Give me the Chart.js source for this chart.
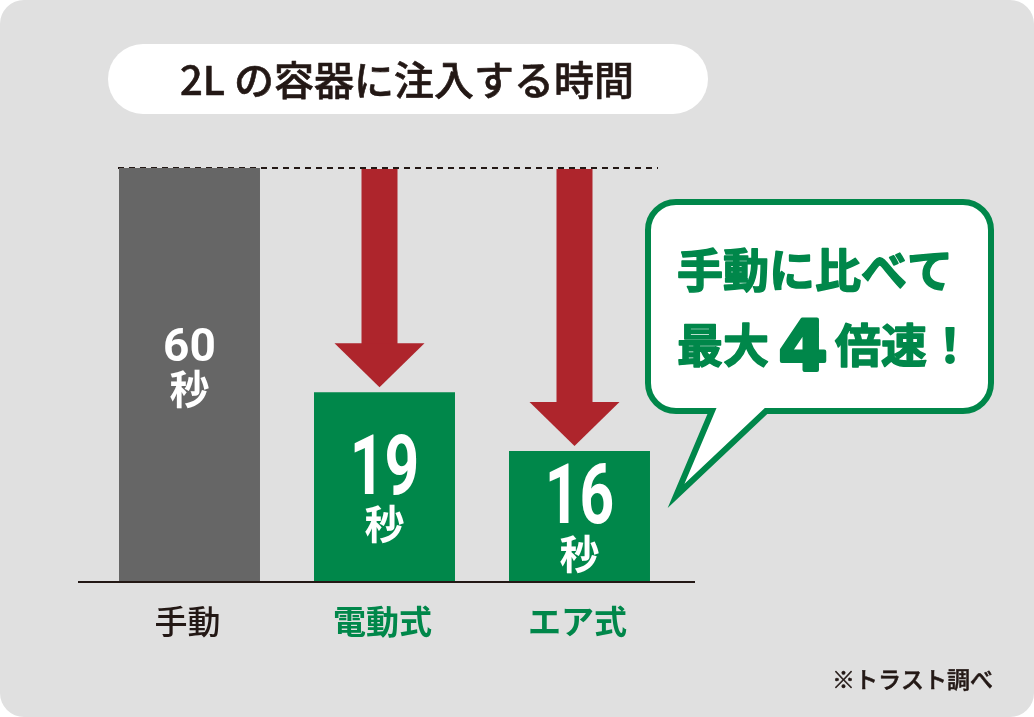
<!DOCTYPE html>
<html><head><meta charset="utf-8">
<script src="https://cdn.jsdelivr.net/npm/chart.js@4.4.1/dist/chart.umd.min.js"></script>
<style>html,body{margin:0;padding:0;background:#fff;}#wrap{width:1034px;height:717px;position:relative;}</style>
</head><body><div id="wrap"><canvas id="c"></canvas></div>
<script>
// ---- data ----
const categories = ['手動', '電動式', 'エア式'];
const barHeights = [60, 27.5, 19];          // bar heights as drawn in the picture
const secondsLabels = ['60', '19', '16'];   // value printed in each bar
const unitLabel = '秒';
const arrowFrom = 60;                        // arrows start at the manual-time level
const titleText = '2L の容器に注入する時間';
const calloutLine1 = '手動に比べて';
const calloutLine2 = ['最大', '4', '倍速！'];
const footnote = '※トラスト調べ';

// ---- styles ----
const DARK = '#231815', GREEN = '#00874a', GRAY = '#666666', RED = '#ae252c', BG = '#e0e0e0';
const JP = '"Noto Sans CJK JP", "Noto Sans", sans-serif';
const barColors = [GRAY, GREEN, GREEN];
const catColors = [DARK, GREEN, GREEN];
const catWeights = ['500', '700', '700'];

function rrect(ctx, x, y, w, h, r) {
  ctx.beginPath();
  ctx.moveTo(x + r, y);
  ctx.lineTo(x + w - r, y); ctx.arcTo(x + w, y, x + w, y + r, r);
  ctx.lineTo(x + w, y + h - r); ctx.arcTo(x + w, y + h, x + w - r, y + h, r);
  ctx.lineTo(x + r, y + h); ctx.arcTo(x, y + h, x, y + h - r, r);
  ctx.lineTo(x, y + r); ctx.arcTo(x, y, x + r, y, r);
  ctx.closePath();
}
function heavyText(ctx, t, x, y, w) {
  ctx.lineWidth = w; ctx.lineJoin = 'round';
  ctx.strokeStyle = ctx.fillStyle;
  ctx.strokeText(t, x, y); ctx.fillText(t, x, y);
}

const deco = {
  id: 'deco',
  beforeDraw(chart) {
    const ctx = chart.ctx, W = chart.width, H = chart.height;
    ctx.save();
    ctx.fillStyle = BG; rrect(ctx, 0, 0, W, H, 24); ctx.fill();
    // title pill
    ctx.fillStyle = '#fff'; rrect(ctx, 108, 44, 600, 70, 35); ctx.fill();
    ctx.fillStyle = DARK; ctx.font = '500 40px ' + JP;
    ctx.textAlign = 'center'; ctx.textBaseline = 'middle';
    heavyText(ctx, titleText, 407, 80, 0.6);
    ctx.restore();
  },
  beforeDatasetsDraw(chart) {
    const ctx = chart.ctx, y = chart.scales.y;
    const yTop = y.getPixelForValue(arrowFrom);
    ctx.save();
    // dotted reference line
    ctx.strokeStyle = DARK; ctx.lineWidth = 2; ctx.setLineDash([6, 5]);
    ctx.beginPath(); ctx.moveTo(118, yTop); ctx.lineTo(658, yTop); ctx.stroke();
    ctx.setLineDash([]);
    // arrows down to reduced bars
    const meta = chart.getDatasetMeta(0);
    for (let i = 1; i < barHeights.length; i++) {
      const bx = meta.data[i].x - 5;
      const tip = y.getPixelForValue(barHeights[i]) - 5;
      const headTop = tip - 44;
      ctx.fillStyle = RED;
      ctx.fillRect(bx - 18, yTop + 1, 36, headTop - yTop);
      ctx.beginPath();
      ctx.moveTo(bx - 45, headTop); ctx.lineTo(bx + 45, headTop); ctx.lineTo(bx, tip);
      ctx.closePath(); ctx.fill();
    }
    ctx.restore();
  },
  afterDatasetsDraw(chart) {
    const ctx = chart.ctx, y = chart.scales.y;
    const meta = chart.getDatasetMeta(0);
    const y0 = y.getPixelForValue(0);
    ctx.save();
    // baseline
    ctx.strokeStyle = DARK; ctx.lineWidth = 2;
    ctx.beginPath(); ctx.moveTo(78, y0); ctx.lineTo(695, y0); ctx.stroke();
    // bar labels
    ctx.fillStyle = '#fff'; ctx.textAlign = 'center';
    meta.data.forEach((bar, i) => {
      const cy = (bar.y + bar.base) / 2;
      if (i === 0) {
        ctx.font = 'bold 46px Roboto, sans-serif'; ctx.textBaseline = 'alphabetic';
        ctx.fillText(secondsLabels[i], bar.x, cy - 30 + 0.355 * 46);
        ctx.font = 'bold 40px ' + JP; ctx.textBaseline = 'middle';
        ctx.fillText(unitLabel, bar.x, cy + 14);
      } else {
        ctx.save();
        ctx.translate(bar.x, cy - 23 + 0.355 * 84);
        ctx.scale(0.72, 1);
        ctx.font = 'bold 84px Roboto, sans-serif'; ctx.textBaseline = 'alphabetic';
        ctx.fillText(secondsLabels[i], 0, 0);
        ctx.restore();
        ctx.font = 'bold 40px ' + JP; ctx.textBaseline = 'middle';
        ctx.fillText(unitLabel, bar.x, cy + 37);
      }
    });
    // category labels
    ctx.textBaseline = 'middle';
    categories.forEach((c, i) => {
      ctx.fillStyle = catColors[i];
      ctx.font = catWeights[i] + ' 33px ' + JP;
      ctx.fillText(c, meta.data[i].x - 2, 621);
    });
    // callout bubble
    ctx.lineWidth = 6; ctx.strokeStyle = GREEN; ctx.fillStyle = '#fff'; ctx.lineJoin = 'miter';
    const L = 648, T = 202, R = 991, B = 411, r = 28;
    ctx.beginPath();
    ctx.moveTo(L + r, T);
    ctx.lineTo(R - r, T); ctx.arcTo(R, T, R, T + r, r);
    ctx.lineTo(R, B - r); ctx.arcTo(R, B, R - r, B, r);
    ctx.lineTo(766, B); ctx.lineTo(676, 496); ctx.lineTo(712, B);
    ctx.lineTo(L + r, B); ctx.arcTo(L, B, L, B - r, r);
    ctx.lineTo(L, T + r); ctx.arcTo(L, T, L + r, T, r);
    ctx.closePath(); ctx.fill(); ctx.stroke();
    ctx.fillStyle = GREEN; ctx.textBaseline = 'middle';
    ctx.font = 'bold 46px ' + JP; ctx.textAlign = 'left';
    heavyText(ctx, calloutLine1, 677, 270, 1.5);
    heavyText(ctx, calloutLine2[0], 677, 345, 1.5);
    ctx.font = 'bold 70px "DejaVu Sans", sans-serif'; ctx.textAlign = 'center'; ctx.textBaseline = 'alphabetic';
    heavyText(ctx, calloutLine2[1], 803, 345 + 0.36 * 70, 4);
    ctx.font = 'bold 46px ' + JP; ctx.textAlign = 'left'; ctx.textBaseline = 'middle';
    heavyText(ctx, calloutLine2[2], 835, 345, 1.5);
    // footnote
    ctx.fillStyle = DARK; ctx.font = '500 23px ' + JP; ctx.textAlign = 'right';
    heavyText(ctx, footnote, 993, 679, 0.5);
    ctx.restore();
  }
};

new Chart(document.getElementById('c'), {
  type: 'bar',
  data: {
    labels: categories,
    datasets: [{ data: barHeights, backgroundColor: barColors, borderWidth: 0,
      barPercentage: 0.723, categoryPercentage: 1 }]
  },
  options: {
    responsive: true, maintainAspectRatio: false, animation: false,
    layout: { padding: { left: 92, right: 357, top: 168, bottom: 135 } },
    scales: {
      x: { display: false },
      y: { display: false, min: 0, max: 60 }
    },
    plugins: { legend: { display: false }, tooltip: { enabled: false }, title: { display: false } }
  },
  plugins: [deco]
});
</script></body></html>
